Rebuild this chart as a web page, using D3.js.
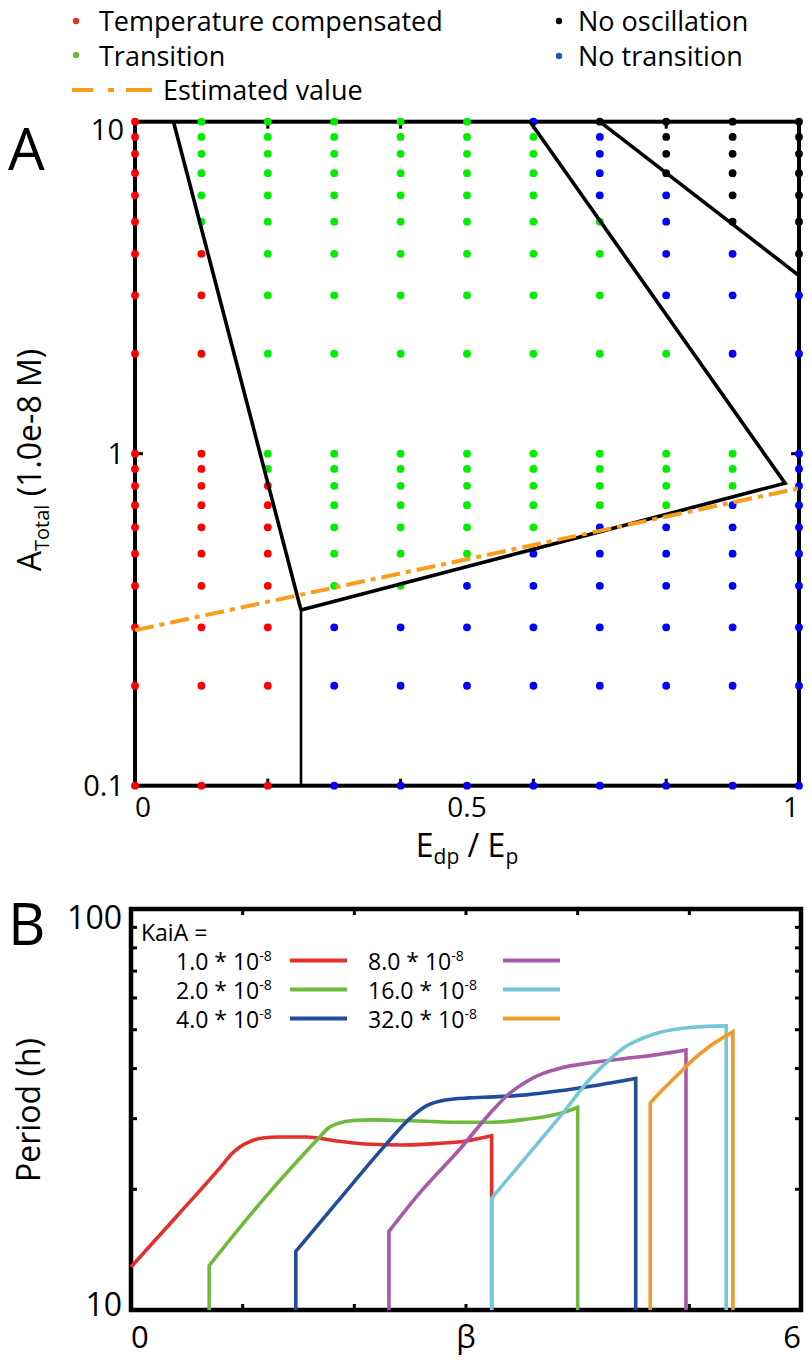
<!DOCTYPE html>
<html><head><meta charset="utf-8">
<script src="https://cdn.jsdelivr.net/npm/d3@7"></script>
<style>
body{margin:0;background:#fff}
svg{display:block}
text{font-family:"Open Sans",sans-serif;fill:#000}
</style>
</head><body>
<svg id="c" width="812" height="1368"></svg>
<script>
// ---------------- Panel A data ----------------
const ratioValues = [0,0.1,0.2,0.3,0.4,0.5,0.6,0.7,0.8,0.9,1];
const aTotalLevels = [10,9,8,7,6,5,4,3,2,1,0.9,0.8,0.7,0.6,0.5,0.4,0.3,0.2,0.1];
// R = temperature compensated, G = transition, B = no transition, K = no oscillation
const regimeCodes = [
  "RGGGGGBKKKK",
  "RGGGGGGBKKK",
  "RGGGGGGBKKK",
  "RGGGGGGBKKK",
  "RGGGGGGBBKK",
  "RGGGGGGGBKK",
  "RRGGGGGGBBK",
  "RRGGGGGGBBB",
  "RRGGGGGGGBB",
  "RRGGGGGGGGB",
  "RRGGGGGGGGB",
  "RRRGGGGGGGB",
  "RRRGGGGGGBB",
  "RRRGGGGBBBB",
  "RRRGGGBBBBB",
  "RRRGGBBBBBB",
  "RRRBBBBBBBB",
  "RRRBBBBBBBB",
  "RRRBBBBBBBB"
];
const regimeColors = {R:"#ff0000", G:"#00ee00", B:"#0000ff", K:"#000000"};
const boundaryTC = [[0.058,10],[0.25,0.338]];
const boundaryTCv = [[0.25,0.338],[0.25,0.1]];
const boundaryNT = [[0.25,0.338],[0.979,0.815],[0.595,10]];
const boundaryNO = [[0.70,10],[1.0,3.44]];
const estimatedLine = [[0,0.294],[1,0.787]];
const ratioTicks = [0.2,0.4,0.6,0.8];
const ratioLabels = [0,0.5,1];
const aTotalLabels = [10,1,0.1];

// ---------------- Panel B data ----------------
const kaiaLabels = ["1.0","2.0","4.0","8.0","16.0","32.0"];
const kaiaColors = ["#e3302b","#6cbb3c","#1f4c9b","#a65aa8","#74c6d9","#ef9b2a"];
const periodKaiA1 = [[0,12.8],[0.44,17.5],[0.83,23.2],[0.90,24.5],[0.975,25.5],[1.064,26.3],[1.18,26.85],[1.33,27.0],[1.57,27.0],[1.84,26.4],[2.14,25.9],[2.44,25.8],[2.73,26.0],[3.0,26.4],[3.23,27.2],[3.23,10]];
const periodKaiA2 = [[0.70,10],[0.70,12.9],[1.18,18.8],[1.69,27.0],[1.765,28.4],[1.854,29.2],[1.99,29.7],[2.17,29.8],[2.4,29.7],[2.585,29.6],[2.88,29.4],[3.24,29.4],[3.54,29.9],[3.84,30.9],[4.0,32.0],[4.0,10]];
const periodKaiA4 = [[1.476,10],[1.476,14.0],[1.84,18.5],[2.29,26.0],[2.50,30.1],[2.645,32.3],[2.82,33.4],[3.03,33.8],[3.24,34.0],[3.54,34.4],[3.84,35.2],[4.13,36.2],[4.52,37.8],[4.52,10]];
const periodKaiA8 = [[2.31,10],[2.31,15.7],[2.58,19.5],[2.94,25.1],[3.24,31.5],[3.39,34.7],[3.54,37.1],[3.69,38.9],[3.84,40.1],[4.13,41.4],[4.43,42.4],[4.73,43.4],[4.97,44.5],[4.97,10]];
const periodKaiA16 = [[3.23,10],[3.23,19.0],[3.54,24.1],[3.84,30.3],[4.13,38.2],[4.28,42.0],[4.43,45.4],[4.58,47.6],[4.73,49.2],[5.03,50.7],[5.33,51.1],[5.33,10]];
const periodKaiA32 = [[4.65,10],[4.65,32.8],[4.73,34.7],[4.88,38.2],[5.03,42.0],[5.18,45.4],[5.39,49.4],[5.39,10]];
const periodSeries = [periodKaiA1,periodKaiA2,periodKaiA4,periodKaiA8,periodKaiA16,periodKaiA32];
const betaTicks = [1,2,3,4,5];
const periodMinorTicks = [20,30,40,50,60,70,80,90];

const svg = d3.select("#c");

// ================= Panel A =================
const xA = d3.scaleLinear().domain([0,1]).range([135,799]);
const yA = d3.scaleLog().domain([0.1,10]).range([785.7,121.7]);
const gA = svg.append("g");

gA.append("rect")
  .attr("x", xA(0)).attr("y", yA(10))
  .attr("width", xA(1)-xA(0)).attr("height", yA(0.1)-yA(10))
  .attr("fill","none").attr("stroke","#000").attr("stroke-width",4);

ratioTicks.forEach(v=>{
  gA.append("line").attr("x1",xA(v)).attr("x2",xA(v)).attr("y1",yA(10)).attr("y2",yA(10)+7).attr("stroke","#000").attr("stroke-width",3);
  gA.append("line").attr("x1",xA(v)).attr("x2",xA(v)).attr("y1",yA(0.1)).attr("y2",yA(0.1)-7).attr("stroke","#000").attr("stroke-width",3);
});
[1].forEach(v=>{
  gA.append("line").attr("x1",xA(0)).attr("x2",xA(0)+8).attr("y1",yA(v)).attr("y2",yA(v)).attr("stroke","#000").attr("stroke-width",3);
  gA.append("line").attr("x1",xA(1)).attr("x2",xA(1)-8).attr("y1",yA(v)).attr("y2",yA(v)).attr("stroke","#000").attr("stroke-width",3);
});

const dots = [];
aTotalLevels.forEach((lv,i)=>{
  ratioValues.forEach((rv,j)=>{ dots.push({x:rv,y:lv,c:regimeCodes[i][j]}); });
});
gA.selectAll("circle.dot").data(dots).join("circle")
  .attr("class","dot")
  .attr("cx",d=>xA(d.x)).attr("cy",d=>yA(d.y)).attr("r",3.9)
  .attr("fill",d=>regimeColors[d.c]);

const lineA = d3.line().x(d=>xA(d[0])).y(d=>yA(d[1]));
gA.append("path").attr("d",lineA(boundaryTCv)).attr("fill","none").attr("stroke","#000").attr("stroke-width",2.6);
[boundaryTC,boundaryNT,boundaryNO].forEach(b=>{
  gA.append("path").attr("d",lineA(b)).attr("fill","none").attr("stroke","#000").attr("stroke-width",3.6).attr("stroke-linejoin","miter");
});
gA.append("path").attr("d",lineA(estimatedLine)).attr("fill","none").attr("stroke","#f99d1c")
  .attr("stroke-width",4).attr("stroke-dasharray","19,6,5,6");

gA.selectAll("text.xl").data(ratioLabels).join("text").attr("class","xl")
  .attr("x",d=>xA(d)).attr("y",817).attr("font-size",28)
  .attr("text-anchor",(d,i)=> i===0?"start":(i===ratioLabels.length-1?"end":"middle"))
  .text(d=>d);
gA.selectAll("text.yl").data(aTotalLabels).join("text").attr("class","yl")
  .attr("x",124).attr("y",d=>Math.max(yA(d),130)).attr("dy","0.36em").attr("font-size",29)
  .attr("text-anchor","end").text(d=>d);

const xt = gA.append("text").attr("x",467).attr("y",857).attr("text-anchor","middle").attr("font-size",32);
xt.append("tspan").text("E");
xt.append("tspan").attr("font-size",21).attr("dy",7).text("dp");
xt.append("tspan").attr("dy",-7).text(" / E");
xt.append("tspan").attr("font-size",21).attr("dy",7).text("p");

const yt = gA.append("text").attr("transform","translate(41,460) rotate(-90)").attr("text-anchor","middle").attr("font-size",32);
yt.append("tspan").text("A");
yt.append("tspan").attr("font-size",20).attr("dy",8).text("Total");
yt.append("tspan").attr("dy",-8).text(" (1.0e-8 M)");

svg.append("text").attr("x",8).attr("y",170).attr("font-size",58).text("A");

const legA = svg.append("g").attr("font-size",27);
legA.append("circle").attr("cx",76).attr("cy",21).attr("r",3.2).attr("fill","#e3302b");
legA.append("text").attr("x",99).attr("y",31).text("Temperature compensated");
legA.append("circle").attr("cx",76).attr("cy",55).attr("r",3.2).attr("fill","#6cbb3c");
legA.append("text").attr("x",99).attr("y",66).text("Transition");
legA.append("line").attr("x1",72).attr("x2",152).attr("y1",90).attr("y2",90).attr("stroke","#f99d1c").attr("stroke-width",4).attr("stroke-dasharray","21,15,6,12,26");
legA.append("text").attr("x",163).attr("y",100).text("Estimated value");
legA.append("circle").attr("cx",559).attr("cy",21).attr("r",3.2).attr("fill","#000");
legA.append("text").attr("x",578).attr("y",31).text("No oscillation");
legA.append("circle").attr("cx",559).attr("cy",56).attr("r",3.2).attr("fill","#2a56a6");
legA.append("text").attr("x",578).attr("y",66).text("No transition");

// ================= Panel B =================
const xB = d3.scaleLinear().domain([0,6]).range([131,801]);
const yB = d3.scaleLog().domain([10,100]).range([1310,909]);
const gB = svg.append("g");

gB.append("rect")
  .attr("x", xB(0)).attr("y", yB(100))
  .attr("width", xB(6)-xB(0)).attr("height", yB(10)-yB(100))
  .attr("fill","none").attr("stroke","#000").attr("stroke-width",4.5);

betaTicks.forEach(v=>{
  gB.append("line").attr("x1",xB(v)).attr("x2",xB(v)).attr("y1",yB(100)).attr("y2",yB(100)+6).attr("stroke","#000").attr("stroke-width",3);
  gB.append("line").attr("x1",xB(v)).attr("x2",xB(v)).attr("y1",yB(10)).attr("y2",yB(10)-6).attr("stroke","#000").attr("stroke-width",3);
});
periodMinorTicks.forEach(v=>{
  gB.append("line").attr("x1",xB(0)).attr("x2",xB(0)+6).attr("y1",yB(v)).attr("y2",yB(v)).attr("stroke","#000").attr("stroke-width",3);
  gB.append("line").attr("x1",xB(6)).attr("x2",xB(6)-6).attr("y1",yB(v)).attr("y2",yB(v)).attr("stroke","#000").attr("stroke-width",3);
});

function curvePath(pts){
  let start = 0, end = pts.length-1;
  if (pts[1][0]===pts[0][0]) start = 1;
  if (pts[end-1][0]===pts[end][0]) end = end-1;
  const mid = pts.slice(start,end+1);
  let d = d3.line().x(p=>xB(p[0])).y(p=>yB(p[1])).curve(d3.curveMonotoneX)(mid);
  if (start===1) d = "M"+xB(pts[0][0])+","+yB(pts[0][1])+"L"+d.slice(1);
  if (end===pts.length-2) d += "L"+xB(pts[end+1][0])+","+yB(pts[end+1][1]);
  return d;
}
periodSeries.forEach((s,i)=>{
  gB.append("path").attr("d",curvePath(s)).attr("fill","none")
    .attr("stroke",kaiaColors[i]).attr("stroke-width",3.6).attr("stroke-linejoin","miter");
});

gB.append("text").attr("x",122).attr("y",yB(100)+20).attr("text-anchor","end").attr("font-size",32).text("100");
gB.append("text").attr("x",122).attr("y",yB(10)+6).attr("text-anchor","end").attr("font-size",32).text("10");
gB.append("text").attr("x",xB(0)).attr("y",1348).attr("text-anchor","start").attr("font-size",31).text("0");
gB.append("text").attr("x",xB(6)).attr("y",1348).attr("text-anchor","end").attr("font-size",31).text("6");
gB.append("text").attr("x",xB(3)).attr("y",1348).attr("text-anchor","middle").attr("font-size",31).text("β");

svg.append("text").attr("transform","translate(40,1110) rotate(-90)").attr("text-anchor","middle").attr("font-size",32).text("Period (h)");
svg.append("text").attr("x",8).attr("y",945).attr("font-size",58).text("B");

const legB = gB.append("g").attr("font-size",23);
legB.append("text").attr("x",141).attr("y",941).text("KaiA =");
const rowY = [970,999,1028];
kaiaLabels.forEach((lab,i)=>{
  const col = Math.floor(i/3), r = i%3;
  const tx = col===0 ? 176 : 368;
  const t = legB.append("text").attr("x",tx).attr("y",rowY[r]);
  t.append("tspan").text(lab+" * 10");
  t.append("tspan").attr("font-size",14).attr("dy",-9).text("-8");
  const lx = col===0 ? 290 : 503;
  legB.append("line").attr("x1",lx).attr("x2",lx+57).attr("y1",rowY[r]-9.5).attr("y2",rowY[r]-9.5)
    .attr("stroke",kaiaColors[i]).attr("stroke-width",4);
});
</script>
</body></html>
